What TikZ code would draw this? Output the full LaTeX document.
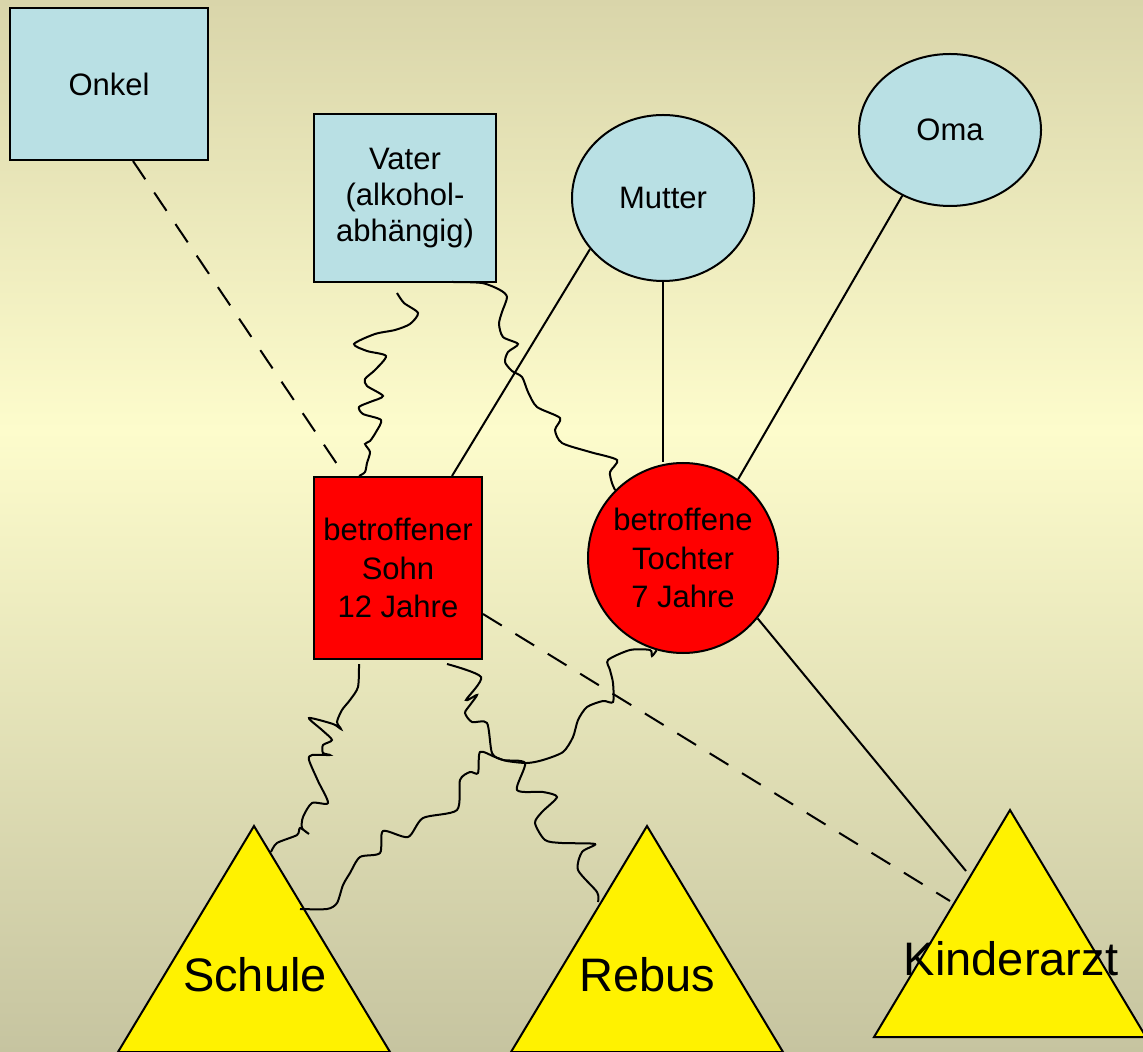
\documentclass[tikz,border=0pt]{standalone}
\usepackage{fontspec}
\setmainfont{Liberation Sans}
\usetikzlibrary{shapes.geometric}
\definecolor{hellblau}{RGB}{185,224,228}
\definecolor{bgtop}{RGB}{217,213,170}
\definecolor{bgmid}{RGB}{253,252,204}
\definecolor{bgbot}{RGB}{198,196,160}
\tikzset{p/.style={draw,line width=1pt,inner sep=0pt,align=center,font=\fontsize{15.5}{18}\selectfont}}
\tikzset{r/.style={p,fill=red,font=\fontsize{15.5}{19.3}\selectfont}}
\tikzset{g/.style={anchor=base,font=\fontsize{23.5}{28}\selectfont}}
\tikzset{tri/.style={draw,line width=1pt,fill=yellow}}
\tikzset{wl/.style={line width=1pt}}
\tikzset{dl/.style={line width=1pt,dash pattern=on 11pt off 8pt}}
\tikzset{fh/.style={line width=1pt,smooth,tension=0.45}}

\begin{document}
\begin{tikzpicture}[x=0.5pt,y=-0.5pt]
  \useasboundingbox (0,0) rectangle (1143,1052);
  \shade[top color=bgtop,bottom color=bgmid] (0,0) rectangle (1143,430);
  \shade[top color=bgmid,bottom color=bgbot] (0,430) rectangle (1143,1052);

  \coordinate (schule) at (254,826);
  \coordinate (rebus) at (647,826);
  \coordinate (kinderarzt) at (1010,810);
  \draw[tri] (schule) -- ++(-136,226) -- ++(272,0) -- cycle;
  \draw[tri] (rebus) -- ++(-136,226) -- ++(272,0) -- cycle;
  \draw[tri] (kinderarzt) -- ++(-136,227) -- ++(272,0) -- cycle;
  \node[g] (schuletext) at (255,991) {Schule};
  \node[g] (rebustext) at (647,991) {Rebus};
  \node[g] (kinderarzttext) at (1011,975) {Kinderarzt};

  \node[p,fill=hellblau,minimum width=99pt,minimum height=76pt] (onkel) at (109,84) {Onkel};
  \node[p,fill=hellblau,minimum width=91pt,minimum height=84pt] (vater) at (405,198) {Vater\\(alkohol-\\abhängig)};
  \node[p,ellipse,fill=hellblau,minimum width=91pt,minimum height=83pt] (mutter) at (663,198) {Mutter};
  \node[p,ellipse,fill=hellblau,minimum width=91pt,minimum height=76pt] (oma) at (950,130) {Oma};
  \node[r,minimum width=84pt,minimum height=91pt] (sohn) at (398,568) {betroffener\\Sohn\\12 Jahre};
  \node[r,circle,minimum size=95pt] (tochter) at (683,558) {betroffene\\Tochter\\7 Jahre};

  \draw[dl] ([shift={(24,0)}]onkel.south) -- ([shift={(-53,0)}]sohn.north);
  \draw[dl] ([shift={(0,46)}]sohn.east) -- ([shift={(-60,91)}]kinderarzt);
  \draw[wl] (mutter.215) -- ([shift={(54,0)}]sohn.north);
  \draw[wl] (mutter.south) -- (mutter.south |- tochter.north);
  \draw[wl] (oma.234) -- (tochter.55);
  \draw[wl] (tochter.-39) -- ([shift={(-44,61)}]kinderarzt);

  \draw[fh] plot coordinates {([shift={(-8,10)}]vater.south) (404,303) (418,313) (410,324) (395,330)
    (375,334) (354,344) (367,351) (386,356) (375,370) (365,379) (367,386) (383,396) (370,402)
    (359,407) (363,414) (381,420) (376,432) (370,441) (365,444) (370,452) (367,463) (365,472)
    ([shift={(-39,0)}]sohn.north)};
  \draw[fh] plot coordinates {([shift={(47,-1)}]vater.south) (482,283) (500,290) (507,297) (502,312)
    (499,324) (503,337) (518,344) (508,352) (505,362) (512,371) (522,377) (528,392) (537,407)
    (560,418) (555,430) (562,443) (590,452) (617,460) (610,472) (612,483) (tochter.135)};
  \draw[fh] plot coordinates {([shift={(-39,4)}]sohn.south) (358,687) (350,700) (342,710) (337,722)
    (341,729) (333,724) (309,718) (322,730) (332,740) (323,745) (323,753) (330,755) (312,755)
    (309,760) (318,781) (328,803) (312,803) (303,817) (302,828) (309,834) (300,828) (297,835)
    (277,843) ([shift={(17,26)}]schule)};
  \draw[fh] plot coordinates {([shift={(49,4)}]sohn.south) (481,677) (466,700) (477,695) (470,705)
    (465,713) (472,722) (487,723) (492,753) (503,760) (525,763) (517,790) (543,792) (557,797)
    (542,812) (535,823) (545,840) (562,843) (595,844) (582,852) (578,870) (597,892)
    ([shift={(-49,76)}]rebus)};
  \draw[fh] plot coordinates {(tochter.254) (652,656) (650,650) (630,650) (608,660) (610,670)
    (613,683) (613,702) (603,701) (587,707) (578,720) (573,737) (563,752) (543,760) (527,763)
    (507,761) (495,757) (480,752) (478,773) (470,772) (460,780) (457,810) (423,818) (408,837)
    (383,831) (380,853) (360,857) (350,873) (343,885) (337,903) (327,909)
    ([shift={(46,83)}]schule)};
\end{tikzpicture}
\end{document}
